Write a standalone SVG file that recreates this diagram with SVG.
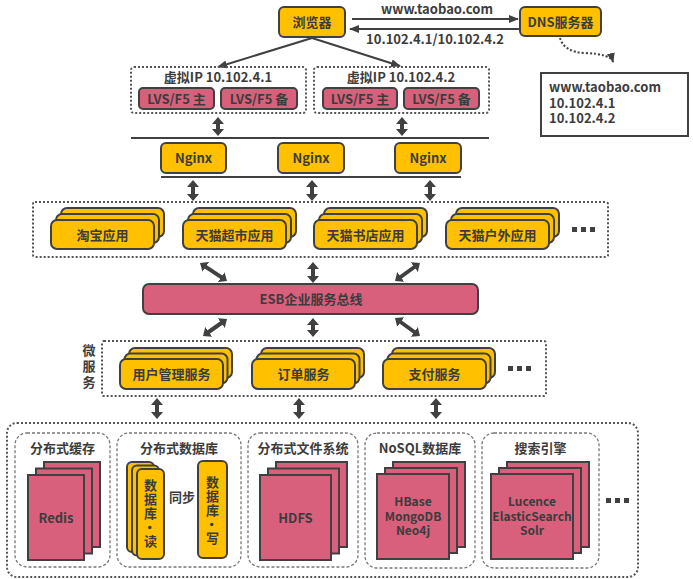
<svg xmlns="http://www.w3.org/2000/svg" width="693" height="579" viewBox="0 0 693 579">
<defs>
<style>
text{font-family:"Noto Sans CJK SC","Microsoft YaHei",sans-serif;font-weight:bold;fill:#3c3c3c;font-size:13px}
.c{text-anchor:middle}
.s{font-size:12px}
.v{writing-mode:vertical-rl;text-anchor:middle;font-size:13px;letter-spacing:1px}
.y{fill:#FFC000;stroke:#404040;stroke-width:2}
.p{fill:#D9607C;stroke:#404040;stroke-width:2}
.dot{fill:none;stroke:#555;stroke-width:2;stroke-dasharray:2 2}
.dash{fill:#fff;stroke:#777;stroke-width:1.3;stroke-dasharray:3 2}
.thin{fill:none;stroke:#404040;stroke-width:2}
.dbl{fill:none;stroke:#404040;stroke-width:4}
.hl{stroke:#404040;stroke-width:2}
.sq{fill:#404040}
</style>
<marker id="ah" viewBox="0 0 10 8" markerWidth="10" markerHeight="8" refX="9" refY="4" orient="auto-start-reverse" markerUnits="userSpaceOnUse"><path d="M0,0 L10,4 L0,8 z" fill="#404040"/></marker>
<marker id="dh" viewBox="0 0 7 12" markerWidth="7" markerHeight="12" refX="1" refY="6" orient="auto-start-reverse" markerUnits="userSpaceOnUse"><path d="M0,0 L7,6 L0,12 z" fill="#404040"/></marker>
</defs>
<rect width="693" height="579" fill="#fff"/>

<g id="connectors">
<path class="thin" d="M312,38 L218,67" marker-end="url(#ah)"/>
<path class="thin" d="M312,38 L400,66" marker-end="url(#ah)"/>
<path class="thin" d="M352,19 L518,19" marker-end="url(#ah)"/>
<path class="thin" d="M519,29 L350,29" marker-end="url(#ah)"/>
<path d="M560,38 Q564,52 585,53 Q611,54 613,62" fill="none" stroke="#404040" stroke-width="2" stroke-dasharray="2 2" marker-end="url(#ah)"/>
<line class="hl" x1="131" y1="138" x2="489" y2="138"/>
<line class="hl" x1="161" y1="177" x2="461" y2="177"/>
<path class="dbl" d="M218,123 L218,130" marker-start="url(#dh)" marker-end="url(#dh)"/>
<path class="dbl" d="M402,123 L402,130" marker-start="url(#dh)" marker-end="url(#dh)"/>
<path class="dbl" d="M193,186 L193,195" marker-start="url(#dh)" marker-end="url(#dh)"/>
<path class="dbl" d="M312,186 L312,195" marker-start="url(#dh)" marker-end="url(#dh)"/>
<path class="dbl" d="M430,186 L430,195" marker-start="url(#dh)" marker-end="url(#dh)"/>
<path class="dbl" d="M205,266.3 L222,277.7" marker-start="url(#dh)" marker-end="url(#dh)"/>
<path class="dbl" d="M313,268 L313,277" marker-start="url(#dh)" marker-end="url(#dh)"/>
<path class="dbl" d="M415.1,266.5 L399.9,277.5" marker-start="url(#dh)" marker-end="url(#dh)"/>
<path class="dbl" d="M222.1,322.5 L207.9,332.5" marker-start="url(#dh)" marker-end="url(#dh)"/>
<path class="dbl" d="M313,324 L313,331" marker-start="url(#dh)" marker-end="url(#dh)"/>
<path class="dbl" d="M399.9,321.5 L415.1,332.5" marker-start="url(#dh)" marker-end="url(#dh)"/>
<path class="dbl" d="M157,404 L157,413" marker-start="url(#dh)" marker-end="url(#dh)"/>
<path class="dbl" d="M299,404 L299,413" marker-start="url(#dh)" marker-end="url(#dh)"/>
<path class="dbl" d="M436,404 L436,413" marker-start="url(#dh)" marker-end="url(#dh)"/>
<path class="thin" d="M173,509 L194,509" marker-end="url(#ah)"/>
<path class="thin" d="M195,521 L173,521" marker-end="url(#ah)"/>
</g>

<g id="browser"><rect class="y" x="279" y="7" width="66" height="30" rx="5"/><text class="c" x="312" y="27">浏览器</text></g>
<g id="dns"><rect class="y" x="520" y="7" width="81" height="29" rx="5"/><text class="c" x="560.5" y="26.5">DNS服务器</text></g>
<text class="c" x="437" y="14">www.taobao.com</text>
<text class="c" x="435" y="44">10.102.4.1/10.102.4.2</text>
<g id="dns-record"><rect x="541" y="73" width="147" height="63" fill="#fff" stroke="#404040" stroke-width="2"/>
<text x="549" y="92" font-size="14">www.taobao.com<tspan x="549" dy="16">10.102.4.1</tspan><tspan x="549" dy="15">10.102.4.2</tspan></text></g>

<g id="vip1"><rect class="dot" x="131" y="67" width="175" height="46" rx="3"/><text class="c" x="218" y="82">虚拟IP 10.102.4.1</text>
<rect class="p" x="139" y="88" width="75" height="21" rx="4"/><text class="c" x="176.5" y="103.5">LVS/F5 主</text>
<rect class="p" x="221" y="88" width="76" height="21" rx="4"/><text class="c" x="259" y="103.5">LVS/F5 备</text></g>
<g id="vip2"><rect class="dot" x="314" y="67" width="175" height="46" rx="3"/><text class="c" x="401" y="82">虚拟IP 10.102.4.2</text>
<rect class="p" x="323" y="88" width="74" height="21" rx="4"/><text class="c" x="360" y="103.5">LVS/F5 主</text>
<rect class="p" x="404" y="88" width="75" height="21" rx="4"/><text class="c" x="441.5" y="103.5">LVS/F5 备</text></g>

<g id="nginx1"><rect class="y" x="161" y="143" width="65" height="30" rx="5"/><text class="c" x="193.5" y="162.5">Nginx</text></g>
<g id="nginx2"><rect class="y" x="278" y="143" width="66" height="30" rx="5"/><text class="c" x="311" y="162.5">Nginx</text></g>
<g id="nginx3"><rect class="y" x="395" y="143" width="66" height="30" rx="5"/><text class="c" x="428" y="162.5">Nginx</text></g>

<g id="apps"><rect class="dot" x="33" y="202" width="575" height="55" rx="2"/>
<g id="app-taobao"><rect class="y" x="61" y="208" width="103" height="29" rx="6"/><rect class="y" x="56" y="214" width="103" height="29" rx="6"/><rect class="y" x="51" y="220" width="103" height="29" rx="6"/><text class="c" x="102.5" y="239.5">淘宝应用</text></g>
<g id="app-chaoshi"><rect class="y" x="193" y="208" width="103" height="29" rx="6"/><rect class="y" x="188" y="214" width="103" height="29" rx="6"/><rect class="y" x="183" y="220" width="103" height="29" rx="6"/><text class="c" x="234.5" y="239.5">天猫超市应用</text></g>
<g id="app-shudian"><rect class="y" x="324" y="208" width="103" height="29" rx="6"/><rect class="y" x="319" y="214" width="103" height="29" rx="6"/><rect class="y" x="314" y="220" width="103" height="29" rx="6"/><text class="c" x="365.5" y="239.5">天猫书店应用</text></g>
<g id="app-huwai"><rect class="y" x="456" y="208" width="103" height="29" rx="6"/><rect class="y" x="451" y="214" width="103" height="29" rx="6"/><rect class="y" x="446" y="220" width="103" height="29" rx="6"/><text class="c" x="497.5" y="239.5">天猫户外应用</text></g>
<rect class="sq" x="572" y="227" width="5" height="5"/><rect class="sq" x="581" y="227" width="5" height="5"/><rect class="sq" x="590" y="227" width="5" height="5"/></g>

<g id="esb"><rect class="p" x="143" y="284" width="335" height="30" rx="6"/><text class="c" x="311" y="304">ESB企业服务总线</text></g>

<g id="services"><rect class="dot" x="102" y="341" width="444" height="55" rx="2"/>
<text class="v" x="89" y="368" style="letter-spacing:3px">微服务</text>
<g id="svc-user"><rect class="y" x="129" y="348" width="103" height="30" rx="6"/><rect class="y" x="124.5" y="353.5" width="103" height="30" rx="6"/><rect class="y" x="120" y="359" width="103" height="30" rx="6"/><text class="c" x="171.5" y="379">用户管理服务</text></g>
<g id="svc-order"><rect class="y" x="261" y="348" width="103" height="30" rx="6"/><rect class="y" x="256.5" y="353.5" width="103" height="30" rx="6"/><rect class="y" x="252" y="359" width="103" height="30" rx="6"/><text class="c" x="303.5" y="379">订单服务</text></g>
<g id="svc-pay"><rect class="y" x="392" y="348" width="103" height="30" rx="6"/><rect class="y" x="387.5" y="353.5" width="103" height="30" rx="6"/><rect class="y" x="383" y="359" width="103" height="30" rx="6"/><text class="c" x="434.5" y="379">支付服务</text></g>
<rect class="sq" x="508" y="366" width="5" height="5"/><rect class="sq" x="517" y="366" width="5" height="5"/><rect class="sq" x="526" y="366" width="5" height="5"/></g>

<g id="storage"><rect class="dot" x="7" y="423" width="631" height="154" rx="10"/>
<g id="cache"><rect class="dash" x="15" y="433" width="95" height="134" rx="12"/><text class="c" x="62.5" y="453">分布式缓存</text>
<rect class="p" x="44" y="462" width="56" height="85"/><rect class="p" x="36" y="468.5" width="56" height="85"/><rect class="p" x="28" y="475" width="56" height="85"/><text class="c" x="56" y="523" font-size="14">Redis</text></g>
<g id="db"><rect class="dash" x="117" y="433" width="124" height="134" rx="12"/><text class="c" x="179" y="453">分布式数据库</text>
<rect class="y" x="127" y="462" width="27" height="90" rx="5"/><rect class="y" x="132" y="465.5" width="27" height="90" rx="5"/><rect class="y" x="137" y="469" width="27" height="90" rx="5"/>
<text class="v" x="150.5" y="514">数据库·读</text>
<rect class="y" x="198" y="461" width="29" height="97" rx="5"/>
<text class="v" x="212.5" y="511">数据库·写</text>
<text class="c" x="182" y="502">同步</text></g>
<g id="fs"><rect class="dash" x="248" y="433" width="110" height="134" rx="12"/><text class="c" x="303" y="453">分布式文件系统</text>
<rect class="p" x="276" y="462" width="71" height="85"/><rect class="p" x="268" y="468.5" width="71" height="85"/><rect class="p" x="260" y="475" width="71" height="85"/><text class="c" x="295.5" y="523" font-size="14">HDFS</text></g>
<g id="nosql"><rect class="dash" x="365" y="433" width="110" height="135" rx="12"/><text class="c" x="420" y="453">NoSQL数据库</text>
<rect class="p" x="393" y="462" width="72" height="85"/><rect class="p" x="385" y="468" width="72" height="85"/><rect class="p" x="377" y="474" width="72" height="85"/>
<text class="c s" x="413" y="506">HBase<tspan x="413" dy="14.5">MongoDB</tspan><tspan x="413" dy="14.5">Neo4j</tspan></text></g>
<g id="search"><rect class="dash" x="482" y="433" width="117" height="135" rx="12"/><text class="c" x="540.5" y="453">搜索引擎</text>
<rect class="p" x="507" y="462" width="82" height="85"/><rect class="p" x="499" y="468" width="82" height="85"/><rect class="p" x="491" y="474" width="82" height="85"/>
<text class="c s" x="532" y="506">Lucence<tspan x="532" dy="14.5">ElasticSearch</tspan><tspan x="532" dy="14.5">Solr</tspan></text></g>
<rect class="sq" x="606" y="498" width="5" height="5"/><rect class="sq" x="615" y="498" width="5" height="5"/><rect class="sq" x="624" y="498" width="5" height="5"/></g>
</svg>
